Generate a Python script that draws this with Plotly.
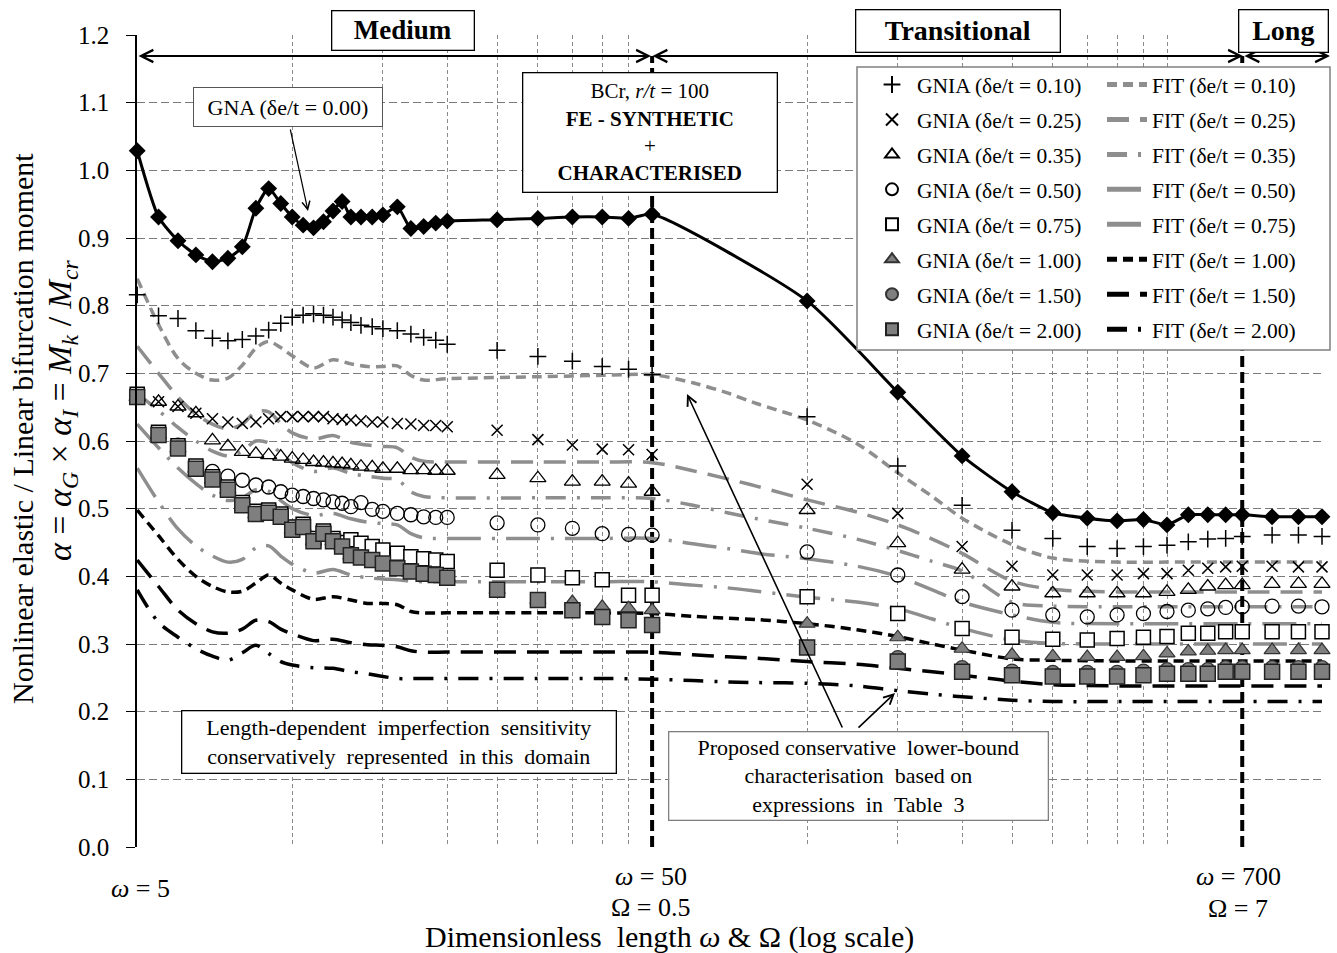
import math
import plotly.graph_objects as go

FONT = "Liberation Serif, Times New Roman, serif"

# ---------------- data ----------------
W = [5, 5.5, 6, 6.5, 7, 7.5, 8, 8.5, 9, 9.5, 10, 10.5, 11, 11.5, 12, 12.5, 13, 13.6, 14.3, 15,
     16, 17, 18, 19, 20,
     25, 30, 35, 40, 45, 50,
     100, 150, 200, 250, 300, 350, 400, 450, 500, 550, 600, 650, 700,
     800, 900, 1000]

GNA = [1.029, 0.931, 0.896, 0.875, 0.865, 0.870, 0.887, 0.944, 0.973, 0.951, 0.931, 0.919, 0.915, 0.924,
       0.940, 0.954, 0.931, 0.931, 0.931, 0.934, 0.946, 0.914, 0.917, 0.922, 0.925,
       0.927, 0.929, 0.931, 0.931, 0.929, 0.935,
       0.807, 0.672, 0.578, 0.525, 0.494, 0.486, 0.482, 0.484, 0.476, 0.491, 0.491, 0.491, 0.491,
       0.488, 0.488, 0.488]

GNIA_010 = [0.816, 0.785, 0.781, 0.763, 0.752, 0.748, 0.750, 0.755, 0.764, 0.774, 0.783, 0.786, 0.788, 0.786,
            0.783, 0.779, 0.775, 0.771, 0.769, 0.766, 0.763, 0.758, 0.753, 0.749, 0.743,
            0.734, 0.725, 0.718, 0.710, 0.706, 0.698,
            0.636, 0.563, 0.505, 0.468, 0.456, 0.444, 0.441, 0.444, 0.446, 0.451, 0.455, 0.456, 0.459,
            0.461, 0.461, 0.459]

GNIA_025 = [0.665, 0.658, 0.651, 0.641, 0.633, 0.628, 0.626, 0.628, 0.633, 0.636, 0.636, 0.636, 0.636, 0.636,
            0.633, 0.632, 0.631, 0.630, 0.628, 0.628, 0.626, 0.625, 0.623, 0.623, 0.621,
            0.616, 0.602, 0.594, 0.588, 0.587, 0.580,
            0.536, 0.493, 0.444, 0.415, 0.402, 0.402, 0.402, 0.404, 0.404, 0.409, 0.412, 0.414, 0.415,
            0.415, 0.414, 0.414]

GNIA_035 = [0.665, 0.658, 0.651, 0.641, 0.601, 0.592, 0.584, 0.581, 0.579, 0.577, 0.574, 0.572, 0.569, 0.568,
            0.567, 0.566, 0.564, 0.562, 0.561, 0.559, 0.559, 0.557, 0.557, 0.556, 0.556,
            0.550, 0.545, 0.540, 0.540, 0.537, 0.525,
            0.498, 0.449, 0.410, 0.385, 0.375, 0.375, 0.375, 0.375, 0.377, 0.380, 0.385, 0.387, 0.387,
            0.389, 0.389, 0.389]

GNIA_050 = [0.665, 0.609, 0.594, 0.559, 0.555, 0.548, 0.542, 0.535, 0.532, 0.525, 0.520, 0.518, 0.515, 0.513,
            0.510, 0.508, 0.503, 0.509, 0.499, 0.496, 0.493, 0.491, 0.488, 0.487, 0.487,
            0.479, 0.476, 0.471, 0.463, 0.462, 0.461,
            0.436, 0.402, 0.370, 0.350, 0.343, 0.340, 0.343, 0.345, 0.348, 0.350, 0.352, 0.354, 0.355,
            0.356, 0.356, 0.355]

GNIA_075 = [0.669, 0.613, 0.593, 0.563, 0.547, 0.532, 0.509, 0.496, 0.498, 0.492, 0.473, 0.477, 0.456, 0.467,
            0.456, 0.450, 0.454, 0.449, 0.444, 0.439, 0.434, 0.429, 0.426, 0.424, 0.422,
            0.409, 0.402, 0.398, 0.395, 0.372, 0.372,
            0.370, 0.345, 0.323, 0.310, 0.307, 0.306, 0.308, 0.310, 0.311, 0.316, 0.316, 0.318, 0.318,
            0.318, 0.318, 0.318]

GNIA_100 = [0.665, 0.609, 0.589, 0.559, 0.543, 0.528, 0.505, 0.492, 0.494, 0.488, 0.469, 0.473, 0.452, 0.463,
            0.452, 0.444, 0.431, 0.428, 0.424, 0.419, 0.412, 0.407, 0.404, 0.402, 0.398,
            0.380, 0.365, 0.362, 0.355, 0.353, 0.350,
            0.330, 0.310, 0.293, 0.284, 0.282, 0.281, 0.281, 0.282, 0.286, 0.289, 0.290, 0.291, 0.291,
            0.291, 0.291, 0.291]

GNIA_150 = [0.665, 0.609, 0.589, 0.559, 0.543, 0.528, 0.505, 0.492, 0.494, 0.488, 0.469, 0.473, 0.452, 0.463,
            0.452, 0.444, 0.431, 0.428, 0.424, 0.419, 0.412, 0.407, 0.404, 0.402, 0.398,
            0.380, 0.365, 0.350, 0.340, 0.335, 0.328,
            0.295, 0.280, 0.265, 0.260, 0.258, 0.258, 0.258, 0.260, 0.262, 0.262, 0.262, 0.265, 0.265,
            0.265, 0.265, 0.265]

GNIA_200 = [0.665, 0.609, 0.589, 0.559, 0.543, 0.528, 0.505, 0.492, 0.494, 0.488, 0.469, 0.473, 0.452, 0.463,
            0.452, 0.444, 0.431, 0.428, 0.424, 0.419, 0.412, 0.407, 0.404, 0.402, 0.398,
            0.380, 0.365, 0.350, 0.340, 0.335, 0.328,
            0.295, 0.274, 0.259, 0.254, 0.252, 0.252, 0.252, 0.254, 0.256, 0.256, 0.256, 0.259, 0.259,
            0.259, 0.259, 0.259]

W_FIT = [5, 5.5, 6, 6.5, 7, 7.5, 8, 8.5, 9, 9.5, 10, 11, 12, 13, 14, 15, 16, 17, 18, 20,
         30, 40, 50,
         60, 70, 80, 100, 125, 150, 175, 200,
         250, 300, 400, 500, 700, 1000]

FIT_010 = [0.840, 0.772, 0.722, 0.700, 0.690, 0.693, 0.712, 0.737, 0.747, 0.738, 0.726, 0.708, 0.720, 0.714,
           0.710, 0.710, 0.711, 0.697, 0.690, 0.692,
           0.695, 0.697, 0.698,
           0.686, 0.671, 0.655, 0.631, 0.596, 0.553, 0.518, 0.486,
           0.447, 0.427, 0.421, 0.421, 0.421, 0.421]
FIT_025 = [0.740, 0.700, 0.665, 0.640, 0.625, 0.618, 0.625, 0.643, 0.643, 0.626, 0.612, 0.603, 0.608, 0.598,
           0.594, 0.592, 0.590, 0.576, 0.570, 0.569,
           0.569, 0.569, 0.568,
           0.556, 0.544, 0.533, 0.513, 0.495, 0.476, 0.455, 0.434,
           0.393, 0.381, 0.377, 0.377, 0.377, 0.377]
FIT_035 = [0.670, 0.645, 0.620, 0.600, 0.585, 0.578, 0.585, 0.600, 0.597, 0.582, 0.568, 0.555, 0.560, 0.552,
           0.548, 0.545, 0.543, 0.525, 0.518, 0.516,
           0.516, 0.516, 0.515,
           0.505, 0.494, 0.485, 0.471, 0.455, 0.438, 0.422, 0.408,
           0.362, 0.356, 0.355, 0.355, 0.355, 0.355]
FIT_050 = [0.625, 0.590, 0.560, 0.537, 0.520, 0.512, 0.516, 0.528, 0.526, 0.512, 0.500, 0.490, 0.493, 0.485,
           0.480, 0.478, 0.476, 0.463, 0.457, 0.456,
           0.456, 0.456, 0.456,
           0.448, 0.441, 0.434, 0.426, 0.415, 0.400, 0.380, 0.362,
           0.343, 0.332, 0.330, 0.330, 0.330, 0.330]
FIT_075 = [0.560, 0.510, 0.470, 0.445, 0.430, 0.421, 0.425, 0.442, 0.445, 0.430, 0.418, 0.405, 0.410, 0.402,
           0.398, 0.396, 0.395, 0.393, 0.392, 0.392,
           0.392, 0.392, 0.392,
           0.387, 0.383, 0.378, 0.369, 0.362, 0.352, 0.337, 0.323,
           0.306, 0.301, 0.300, 0.300, 0.300, 0.300]
FIT_100 = [0.498, 0.460, 0.425, 0.400, 0.385, 0.377, 0.378, 0.390, 0.402, 0.390, 0.380, 0.366, 0.370, 0.365,
           0.360, 0.360, 0.358, 0.348, 0.346, 0.346,
           0.346, 0.346, 0.345,
           0.341, 0.338, 0.336, 0.330, 0.321, 0.311, 0.300, 0.291,
           0.278, 0.276, 0.275, 0.275, 0.275, 0.275]
FIT_150 = [0.424, 0.385, 0.350, 0.330, 0.318, 0.316, 0.322, 0.335, 0.333, 0.322, 0.315, 0.305, 0.307, 0.302,
           0.299, 0.298, 0.296, 0.290, 0.288, 0.288,
           0.288, 0.288, 0.288,
           0.284, 0.281, 0.279, 0.274, 0.270, 0.264, 0.259, 0.254,
           0.245, 0.240, 0.238, 0.238, 0.238, 0.238]
FIT_200 = [0.380, 0.332, 0.310, 0.293, 0.282, 0.276, 0.287, 0.298, 0.286, 0.274, 0.269, 0.265, 0.264, 0.259,
           0.256, 0.252, 0.249, 0.249, 0.249, 0.249,
           0.249, 0.249, 0.248,
           0.246, 0.244, 0.243, 0.242, 0.238, 0.231, 0.226, 0.222,
           0.217, 0.215, 0.215, 0.215, 0.215, 0.215]

DE_LABELS = ["0.10", "0.25", "0.35", "0.50", "0.75", "1.00", "1.50", "2.00"]
BOUNDARIES = [50, 700]          # medium/transitional and transitional/long limits
BOUNDARY_TOP = 1.169            # top of the boundary lines (level of the domain arrows)
GRID_W = [10, 15, 20, 25, 30, 35, 40, 45, 100, 150, 200, 250, 300, 350, 400, 450, 500, 1000]
Y_TICKS = [0.0, 0.1, 0.2, 0.3, 0.4, 0.5, 0.6, 0.7, 0.8, 0.9, 1.0, 1.1, 1.2]
X_MIN, X_MAX = 4.995, 1000

# ---------------- layout helpers (pixel -> paper) ----------------
L, R, T, B = 137, 1322, 35, 847
def PX(x):
    return (x - L) / (R - L)
def PY(y):
    return (B - y) / (B - T)

GREY = "#8e8e8e"
fig = go.Figure()

# domain boundary lines
for wb in BOUNDARIES:
    fig.add_trace(go.Scatter(x=[wb, wb], y=[0, BOUNDARY_TOP], mode="lines",
                             line=dict(color="black", width=4, dash="11px,5px"),
                             showlegend=False, hoverinfo="skip"))

fit_series = [FIT_010, FIT_025, FIT_035, FIT_050, FIT_075, FIT_100, FIT_150, FIT_200]
fit_styles = [
    (GREY, "10px,6px"),
    (GREY, "22px,11px"),
    (GREY, "20px,11px,3px,11px"),
    (GREY, "34px,11px,3px,11px"),
    (GREY, "34px,11px,3px,11px"),
    ("black", "10px,6px"),
    ("black", "22px,11px"),
    ("black", "20px,11px,3px,11px"),
]
for i, (vals, (col, dash)) in enumerate(zip(fit_series, fit_styles)):
    fig.add_trace(go.Scatter(
        x=W_FIT, y=vals, mode="lines",
        line=dict(color=col, width=3.5, dash=dash, shape="spline", smoothing=0.9),
        name=f"FIT (\u03b4e/t = {DE_LABELS[i]})",
        legend="legend2", legendgroup=f"f{i}",
    ))

gnia_series = [GNIA_010, GNIA_025, GNIA_035, GNIA_050, GNIA_075, GNIA_100, GNIA_150, GNIA_200]
gnia_markers = [
    dict(symbol="cross-thin", size=12, color="black", line=dict(width=1.5, color="black")),
    dict(symbol="x-thin", size=11, color="black", line=dict(width=1.5, color="black")),
    dict(symbol="triangle-up-open", size=14, color="black", line=dict(width=1.3, color="black")),
    dict(symbol="circle-open", size=14, color="black", line=dict(width=1.3, color="black")),
    dict(symbol="square", size=14, color="white", line=dict(width=1.5, color="black")),
    dict(symbol="triangle-up", size=14, color="#7f7f7f", line=dict(width=1.2, color="#333333")),
    dict(symbol="circle", size=14, color="#7f7f7f", line=dict(width=1.2, color="#333333")),
    dict(symbol="square", size=15, color="#7f7f7f", line=dict(width=1.5, color="#222222")),
]
for i, (vals, mk) in enumerate(zip(gnia_series, gnia_markers)):
    fig.add_trace(go.Scatter(
        x=W, y=vals, mode="markers", marker=mk, cliponaxis=False,
        name=f"GNIA (\u03b4e/t = {DE_LABELS[i]})",
        legend="legend", legendgroup=f"g{i}",
    ))

fig.add_trace(go.Scatter(
    x=W, y=GNA, mode="lines+markers", cliponaxis=False,
    line=dict(color="black", width=3, shape="spline", smoothing=0.6),
    marker=dict(symbol="diamond", size=13, color="black"),
    showlegend=False, name="GNA",
))

# ---------------- shapes ----------------
shapes = [dict(type="rect", xref="paper", yref="paper", x0=PX(857), x1=PX(1330), y0=PY(350), y1=PY(67),
               line=dict(color="#808080", width=1.5), fillcolor="white", layer="above")]

# ---------------- annotations ----------------
ann = []
def box(cx, cy, w, h, text, size=20, border="black", bw=1.3):
    ann.append(dict(xref="paper", yref="paper", x=PX(cx), y=PY(cy), xanchor="center", yanchor="middle",
                    text=text, showarrow=False, bgcolor="white", bordercolor=border, borderwidth=bw,
                    borderpad=0, width=w, height=h, align="center",
                    font=dict(family=FONT, size=size, color="black")))

def label(cx, cy, text, size=22, angle=0):
    ann.append(dict(xref="paper", yref="paper", x=PX(cx), y=PY(cy), xanchor="center", yanchor="middle",
                    text=text, showarrow=False, textangle=angle,
                    font=dict(family=FONT, size=size, color="black")))

def arrow(hx, hy, tx, ty, both=False, width=2, head=5, size=1.2):
    a = dict(xref="paper", yref="paper", x=PX(hx), y=PY(hy), ax=tx - hx, ay=ty - hy,
             axref="pixel", ayref="pixel", text="", showarrow=True, arrowhead=head,
             arrowsize=size, arrowwidth=width, arrowcolor="black")
    if both:
        a.update(arrowside="end+start", startarrowhead=head, startarrowsize=size)
    ann.append(a)

# domain arrows
arrow(651, 56, 137, 56, both=True)
arrow(1243, 56, 651, 56, both=True)
arrow(1330, 56, 1243, 56, both=True)

box(402.5, 30, 141, 38, "<b>Medium</b>", size=27)
box(957.5, 30.5, 203, 41, "<b>Transitional</b>", size=28)
box(1283, 30.5, 88, 41, "<b>Long</b>", size=28)

# GNA callout
arrow(308, 211, 290, 128, width=1.2, head=5, size=1.3)
box(288, 107, 188, 38, "GNA (\u03b4e/t = 0.00)", size=22, border="#555555", bw=1)

box(649.5, 132, 253, 118,
    "BCr, <i>r/t</i> = 100<br><b>FE - SYNTHETIC</b><br>+<br><b>CHARACTERISED</b>", size=21)

nb = "\u00a0"
box(398.5, 741.5, 433, 61,
    f"Length-dependent{nb}{nb}imperfection{nb}{nb}sensitivity<br>"
    f"conservatively{nb}{nb}represented{nb}{nb}in{nb}this{nb}{nb}domain", size=22)

arrow(687, 394, 843, 729, width=1.6, head=5, size=1.2)
arrow(895, 693, 857, 729, width=1.6, head=5, size=1.2)
box(858, 775.5, 378, 87,
    f"Proposed conservative{nb}{nb}lower-bound<br>characterisation{nb}{nb}based on<br>"
    f"expressions{nb}{nb}in{nb}{nb}Table{nb}{nb}3", size=22, border="#808080", bw=1.3)

# axis labels
label(140, 888, "<i>\u03c9</i> = 5", size=26)
label(651, 876, "<i>\u03c9</i> = 50", size=26)
label(651, 907, "\u03a9 = 0.5", size=26)
label(1238, 877, "<i>\u03c9</i> = 700", size=26)
label(1238, 908, "\u03a9 = 7", size=26)
label(669, 937, f"Dimensionless{nb}{nb}length <i>\u03c9</i> &amp; \u03a9 (log scale)", size=30)
label(22, 429, "Nonlinear elastic / Linear bifurcation moment", size=30, angle=-90)
label(62, 410, "<i>\u03b1</i> = <i>\u03b1</i><sub><i>G</i></sub> \u00d7 <i>\u03b1</i><sub><i>I</i></sub> = "
               "<i>M</i><sub><i>k</i></sub> / <i>M</i><sub><i>cr</i></sub>", size=34, angle=-90)

legend_common = dict(xanchor="left", yanchor="top", bgcolor="rgba(0,0,0,0)", borderwidth=0,
                     font=dict(family=FONT, size=21.5, color="black"), tracegroupgap=4,
                     itemsizing="constant", traceorder="grouped", itemwidth=40)

fig.update_layout(
    width=1337, height=953,
    margin=dict(l=L, r=1337 - R, t=T, b=953 - B),
    paper_bgcolor="white", plot_bgcolor="white",
    font=dict(family=FONT, color="black"),
    xaxis=dict(type="log", range=[math.log10(X_MIN), math.log10(X_MAX)], tickvals=GRID_W,
               showticklabels=False, ticks="", showgrid=True, gridcolor="#8a8a8a", gridwidth=1,
               griddash="4px,3px", zeroline=False, showline=False),
    yaxis=dict(range=[0, 1.2], tickvals=Y_TICKS, tickformat=".1f", showgrid=True, gridcolor="#7a7a7a",
               gridwidth=1, griddash="8px,4px", zeroline=False, showline=True, linecolor="black",
               linewidth=1.5, ticks="outside", ticklen=9, tickcolor="black", tickwidth=1.3,
               tickfont=dict(family=FONT, size=25, color="black"), ticklabelstandoff=12),
    legend=dict(x=PX(867), y=PY(64), **legend_common),
    legend2=dict(x=PX(1102), y=PY(64), **legend_common),
    shapes=shapes, annotations=ann, showlegend=True,
)

fig.write_html("out.html")
